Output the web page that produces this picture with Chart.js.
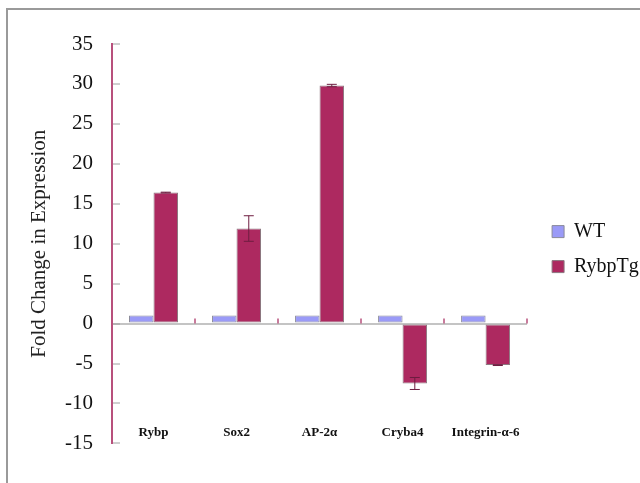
<!DOCTYPE html>
<html>
<head>
<meta charset="utf-8">
<script src="https://cdn.jsdelivr.net/npm/chart.js@4.4.1/dist/chart.umd.min.js"></script>
<style>
  html, body { margin: 0; padding: 0; background: #fff; overflow: hidden; }
  #wrap { position: relative; width: 640px; height: 483px; }
  #frame { position: absolute; left: 6px; top: 8px; width: 700px; height: 600px;
           border-top: 2px solid #9a9a9a; border-left: 2px solid #9a9a9a; pointer-events: none; }
  canvas { position: absolute; left: 0; top: 0; }
</style>
</head>
<body>
<div id="wrap">
  <canvas id="chart" width="640" height="483"></canvas>
  <div id="frame"></div>
</div>
<script>
// Genes measured by qPCR
const genes = ['Rybp', 'Sox2', 'AP-2α', 'Cryba4', 'Integrin-α-6'];
// Fold change relative to wild type
const wtFold = [1, 1, 1, 1, 1];
const tgFold = [16.4, 11.9, 29.8, -7.5, -5.2];
// Standard error of the transgenic measurements
const tgError = [0.05, 1.6, 0.15, 0.75, 0.05];
// Y axis range and step
const yMin = -15;
const yMax = 35;
const yStep = 5;

const serif = "'Liberation Serif', 'Times New Roman', serif";

// Draws +/- error whiskers on bars that carry an `errors` array
const errorBars = {
  id: 'errorBars',
  afterDatasetsDraw(chart) {
    const { ctx } = chart;
    const y = chart.scales.y;
    chart.data.datasets.forEach((ds, di) => {
      if (!ds.errors) return;
      const meta = chart.getDatasetMeta(di);
      meta.data.forEach((bar, i) => {
        const e = ds.errors[i];
        if (!e) return;
        const v = ds.data[i];
        const y1 = y.getPixelForValue(v + e);
        const y2 = y.getPixelForValue(v - e);
        ctx.save();
        ctx.strokeStyle = '#6e1d40';
        ctx.lineWidth = 1;
        ctx.beginPath();
        ctx.moveTo(bar.x, y1); ctx.lineTo(bar.x, y2);
        ctx.moveTo(bar.x - 5, y1); ctx.lineTo(bar.x + 5, y1);
        ctx.moveTo(bar.x - 5, y2); ctx.lineTo(bar.x + 5, y2);
        ctx.stroke();
        ctx.restore();
      });
    });
  }
};

// Short marks on the zero line between gene groups
const categoryMarks = {
  id: 'categoryMarks',
  afterDatasetsDraw(chart) {
    const { ctx } = chart;
    const x = chart.scales.x;
    const y0 = chart.scales.y.getPixelForValue(0);
    ctx.save();
    ctx.strokeStyle = '#b8507c';
    ctx.lineWidth = 1.5;
    ctx.beginPath();
    for (let i = 0; i < genes.length; i++) {
      const px = Math.round(x.getPixelForValue(i + 0.5));
      ctx.moveTo(px, y0 - 5);
      ctx.lineTo(px, y0);
    }
    ctx.stroke();
    ctx.restore();
  }
};

new Chart(document.getElementById('chart'), {
  type: 'bar',
  data: {
    labels: genes,
    datasets: [
      {
        label: 'WT',
        data: wtFold,
        backgroundColor: '#9a9af7',
        borderColor: '#8a8a9a',
        borderWidth: 1,
        borderSkipped: false,
        categoryPercentage: 0.59,
        barPercentage: 1
      },
      {
        label: 'RybpTg',
        data: tgFold,
        errors: tgError,
        backgroundColor: '#ad2960',
        borderColor: '#8c7880',
        borderWidth: 1,
        borderSkipped: false,
        categoryPercentage: 0.59,
        barPercentage: 1
      }
    ]
  },
  options: {
    responsive: false,
    animation: false,
    devicePixelRatio: 1,
    layout: { padding: { top: 44, left: 0, right: -4.5, bottom: 0 } },
    plugins: {
      tooltip: { enabled: false },
      legend: {
        position: 'right',
        align: 'center',
        fullSize: false,
        title: { display: true, text: '', padding: 0, font: { size: 9 } },
        labels: {
          boxWidth: 12,
          boxHeight: 12,
          padding: 15,
          color: '#111',
          font: { family: serif, size: 20 }
        }
      }
    },
    scales: {
      x: {
        position: 'bottom',
        grid: { display: false, drawTicks: false },
        border: { display: false },
        ticks: {
          autoSkip: false,
          maxRotation: 0,
          mirror: true,
          padding: 3,
          color: '#111',
          font: { family: serif, size: 13, weight: 'bold' }
        },
        afterFit: (s) => { s.height = 35; }
      },
      y: {
        min: yMin,
        max: yMax,
        position: 'left',
        grid: {
          color: (c) => (c.tick && c.tick.value === 0 ? '#c4c4c4' : 'rgba(0,0,0,0)'),
          lineWidth: 2,
          drawTicks: true,
          tickLength: -8,
          tickColor: '#a0a0a0',
          tickWidth: 1
        },
        border: { display: true, color: '#b8507c', width: 2 },
        ticks: {
          stepSize: yStep,
          padding: 27,
          color: '#111',
          font: { family: serif, size: 21 }
        },
        title: {
          display: true,
          text: 'Fold Change in Expression',
          color: '#222',
          padding: { top: 27, bottom: 0 },
          font: { family: serif, size: 21 }
        },
        afterFit: (s) => { s.width = 112; }
      },
      gap: {
        type: 'linear',
        position: 'right',
        display: true,
        grid: { display: false, drawTicks: false },
        border: { display: false },
        ticks: { display: false },
        afterFit: (s) => { s.width = 10; }
      }
    }
  },
  plugins: [errorBars, categoryMarks]
});
</script>
</body>
</html>
